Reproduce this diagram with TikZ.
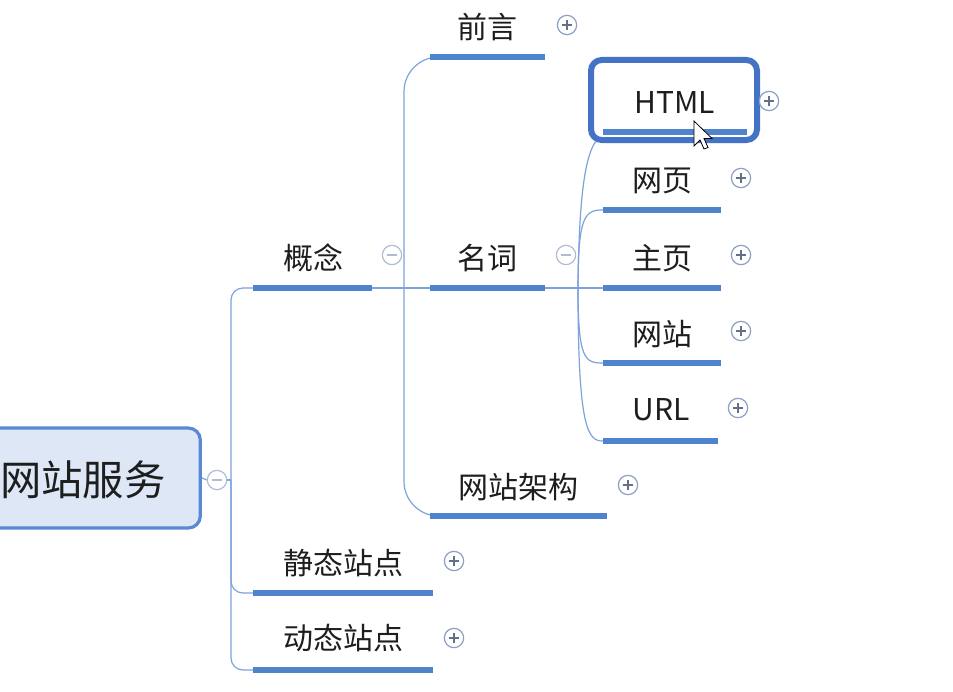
\documentclass[tikz,border=0pt]{standalone}
\usepackage{fontspec}
\setmainfont{Noto Sans CJK SC}
\definecolor{ublue}{RGB}{79,131,204}
\definecolor{cblue}{RGB}{125,162,220}
\definecolor{boxblue}{RGB}{68,114,196}
\definecolor{rootfill}{RGB}{221,231,245}
\definecolor{rootline}{RGB}{88,137,210}
\definecolor{iconc}{RGB}{140,160,195}
\definecolor{iconm}{RGB}{175,188,212}
\definecolor{txt}{RGB}{30,30,30}
\begin{document}
\begin{tikzpicture}[x=0.75pt,y=-0.75pt,
  topic/.style={font=\fontsize{22.5}{24}\selectfont, text=txt, inner sep=0pt},
  uline/.style={draw=ublue, line width=3.8pt},
  conn/.style={draw=cblue, line width=0.9pt},
  icon/.style={circle, draw=iconc, line width=0.9pt, fill=white, minimum size=14.5pt, inner sep=0pt},
  plusicon/.style={icon, path picture={
    \draw[iconc!70!black, line width=0.9pt]
      ([xshift=-3.8pt]path picture bounding box.center) -- ([xshift=3.8pt]path picture bounding box.center)
      ([yshift=-3.8pt]path picture bounding box.center) -- ([yshift=3.8pt]path picture bounding box.center);}},
  minusicon/.style={icon, draw=iconm, path picture={
    \draw[iconm, line width=0.9pt]
      ([xshift=-3.8pt]path picture bounding box.center) -- ([xshift=3.8pt]path picture bounding box.center);}},
  rootbox/.style={draw=rootline, fill=rootfill, line width=2.4pt, rounded corners=9pt,
    minimum width=176pt, minimum height=75pt},
  htmlbox/.style={draw=boxblue, line width=4.5pt, rounded corners=8pt, fill=white,
    minimum width=124.5pt, minimum height=60pt},
]
\useasboundingbox (0,0) rectangle (953,692);
\clip (0,0) rectangle (953,692);
\fill[white] (0,0) rectangle (953,692);

% ---------- root ----------
\node[rootbox] (root) at (83,478) {};
\node[font=\fontsize{31}{33}\selectfont, text=txt, inner sep=0pt] (roottext) at (83,480) {网站服务};
\node[minusicon] (rooticon) at (217,480) {};
\coordinate (rv) at (231,480);

% ---------- level 1 ----------
\coordinate (gnL) at (253,288); \coordinate (gnR) at (372,288);
\coordinate (jtL) at (253,593); \coordinate (jtR) at (433,593);
\coordinate (dtL) at (253,670); \coordinate (dtR) at (433,670);
\node[topic] (gn) at (313,258) {概念};
\node[topic] (jt) at (343,563) {静态站点};
\node[topic] (dt) at (343,638) {动态站点};
\node[minusicon] (gnicon) at (392,255) {};
\node[plusicon] (jticon) at (454,561) {};
\node[plusicon] (dticon) at (454,638) {};

% ---------- level 2 ----------
\coordinate (v2) at (404,288);
\coordinate (qyL) at (430,57);  \coordinate (qyR) at (545,57);
\coordinate (mcL) at (430,288); \coordinate (mcR) at (545,288);
\coordinate (jgL) at (430,516); \coordinate (jgR) at (607,516);
\node[topic] (qy) at (487,27) {前言};
\node[topic] (mc) at (487,258) {名词};
\node[topic] (jg) at (518,487) {网站架构};
\node[plusicon] (qyicon) at (567,25) {};
\node[minusicon] (mcicon) at (566,255) {};
\node[plusicon] (jgicon) at (628,485) {};

% ---------- level 3 ----------
\coordinate (v3) at (578,288);
\node[htmlbox] (html) at (674,100) {};
\coordinate (htL) at (603,132); \coordinate (htR) at (747,132);
\coordinate (htC) at (596,141);
\coordinate (wyL) at (603,210); \coordinate (wyR) at (721,210);
\coordinate (zyL) at (603,288); \coordinate (zyR) at (721,288);
\coordinate (wzL) at (603,363); \coordinate (wzR) at (721,363);
\coordinate (urL) at (603,441); \coordinate (urR) at (718,441);
\node[topic] (ht) at (675,103) {HTML};
\node[topic] (wy) at (662,181) {网页};
\node[topic] (zy) at (662,258) {主页};
\node[topic] (wz) at (662,334) {网站};
\node[topic] (ur) at (661,410) {URL};
\node[plusicon] (hticon) at (769,101) {};
\node[plusicon] (wyicon) at (741,178) {};
\node[plusicon] (zyicon) at (741,255) {};
\node[plusicon] (wzicon) at (741,331) {};
\node[plusicon] (uricon) at (738,408) {};

% ---------- connectors ----------
\draw[conn] (root.east) -- (rooticon.west);
\draw[conn] (rooticon.east) -- (rv);
\draw[conn, rounded corners=9pt] (rv) |- (gnL);
\draw[conn, rounded corners=9pt] (rv) |- (jtL);
\draw[conn, rounded corners=9pt] (rv) |- (dtL);

\draw[conn] (gnR) -- (mcL);
\draw[conn, rounded corners=26pt] (v2) |- (qyL);
\draw[conn, rounded corners=26pt] (v2) |- (jgL);

\draw[conn] (mcR) -- (zyL);
\draw[conn] (v3) .. controls (579,190) and (586,155) .. (htC);
\draw[conn] (v3) .. controls (578,215) and (585,210) .. (wyL);
\draw[conn] (v3) .. controls (578,360) and (585,363) .. (wzL);
\draw[conn] (v3) .. controls (578,430) and (588,441) .. (urL);

% ---------- underlines ----------
\foreach \a/\b in {gnL/gnR, jtL/jtR, dtL/dtR, qyL/qyR, mcL/mcR, jgL/jgR, htL/htR, wyL/wyR, zyL/zyR, wzL/wzR, urL/urR}
  \draw[uline] (\a) -- (\b);

% ---------- mouse cursor ----------
\draw[fill=white, draw=black, line width=0.6pt, line join=miter]
  (694,121) -- (694,146) -- (700,140) -- (704,149) -- (708,147.5) -- (704,138.5) -- (712,138.5) -- cycle;
\end{tikzpicture}
\end{document}
